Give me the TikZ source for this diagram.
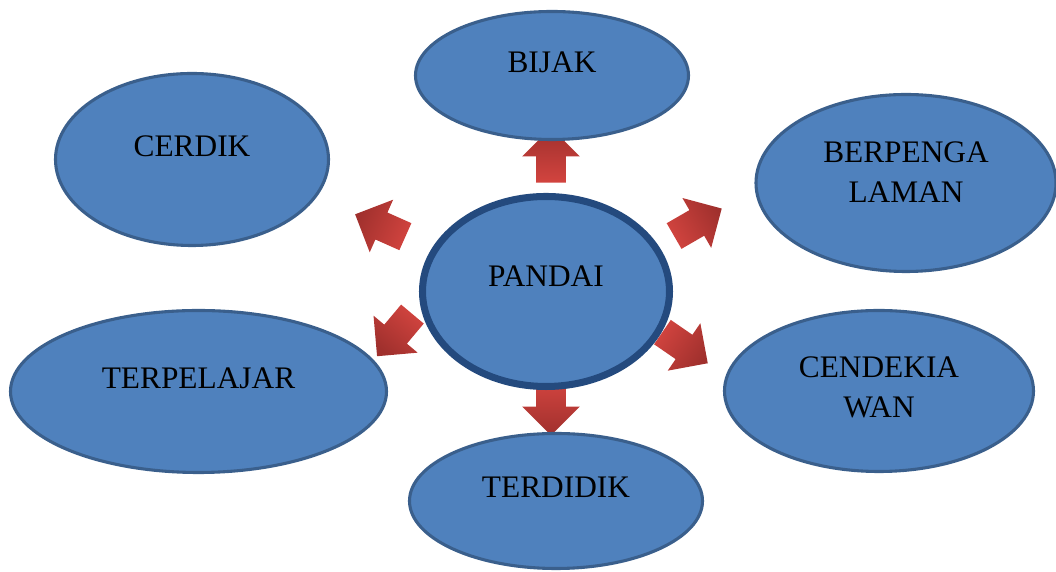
\documentclass[tikz,border=0pt]{standalone}
\usepackage{fontspec}
\setmainfont{Liberation Serif}
\usetikzlibrary{shapes.geometric,shapes.arrows}
\definecolor{bubblefill}{HTML}{4F81BD}
\definecolor{bubbleline}{HTML}{3A5F8C}
\definecolor{mainline}{HTML}{244A7E}
\definecolor{arrowlight}{HTML}{D2443F}
\definecolor{arrowdark}{HTML}{A0302D}

\begin{document}
\begin{tikzpicture}[bubble/.style={ellipse,draw=bubbleline,line width=2.2pt,fill=bubblefill,inner sep=0pt,align=center,font=\fontsize{22.3}{29}\selectfont,text height=14.6pt,text depth=19pt},
  blockarrow/.style={single arrow,inner xsep=0pt,inner ysep=0.3625cm,minimum height=1.375cm,single arrow head extend=0.35cm,draw=none,left color=arrowlight,right color=arrowdark,rotate=#1,shading angle=#1+90}]
\useasboundingbox (0,0) rectangle (26.4,14.3);
\clip (0,0) rectangle (26.4,14.3);

% arrows round the centre
\node[blockarrow=90] (aup) at (13.775,10.2375) {};
\node[blockarrow=-90] (adown) at (13.775,4.2875) {};
\node[blockarrow=156] (aul) at (9.675,8.5875) {};
\node[blockarrow=30] (aur) at (17.2875,8.65) {};
\node[blockarrow=230] (all) at (9.9875,6.0625) {};
\node[blockarrow=-34.5] (alr) at (16.975,5.7125) {};

% ellipses
\node[bubble,minimum width=6.825cm,minimum height=3.2cm] (bijak) at (13.8,12.4125) {BIJAK};
\node[bubble,minimum width=6.825cm,minimum height=4.3cm] (cerdik) at (4.8,10.3125) {CERDIK};
\node[bubble,minimum width=7.5cm,minimum height=4.425cm,text height=28.4pt,text depth=0pt] (berpengalaman) at (22.65,9.725) {BERPENGA\\LAMAN};
\node[bubble,draw=mainline,line width=5pt,minimum width=6.175cm,minimum height=4.75cm,text depth=21pt] (pandai) at (13.65,7.0125) {PANDAI};
\node[bubble,minimum width=9.4cm,minimum height=4.05cm] (terpelajar) at (4.9625,4.5125) {TERPELAJAR};
\node[bubble,minimum width=7.725cm,minimum height=4.025cm,text height=38.4pt,text depth=0pt] (cendekiawan) at (21.975,4.525) {CENDEKIA\\WAN};
\node[bubble,minimum width=7.325cm,minimum height=3.375cm] (terdidik) at (13.9,1.775) {TERDIDIK};

\end{tikzpicture}
\end{document}
